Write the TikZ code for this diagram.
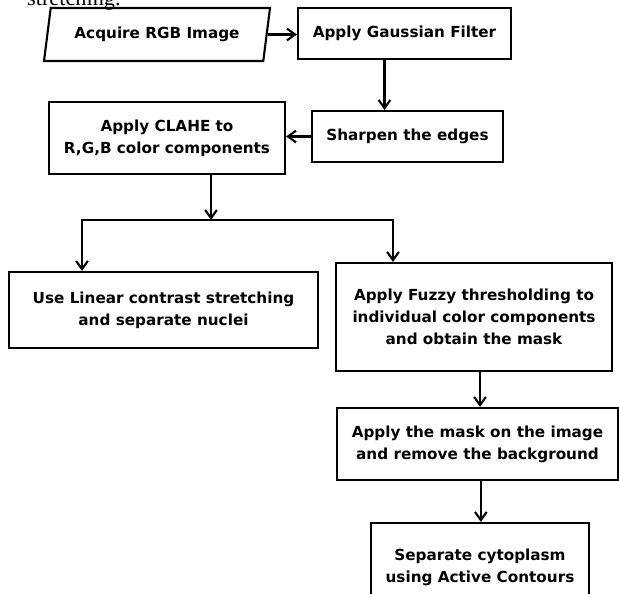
\documentclass[tikz,border=0pt]{standalone}
\usepackage{fontspec}
\setmainfont{DejaVu Sans}
\newfontfamily\capfont{Liberation Serif}
\usetikzlibrary{positioning,shapes.geometric,arrows.meta}

\tikzset{
	stepbox/.style={draw, line width=1.8pt, align=center, inner sep=2pt,
		font=\bfseries\fontsize{13}{18.7}\selectfont},
	flow/.style={-{Straight Barb[length=7pt,width=10pt]}, line width=1.8pt}
}

\begin{document}
\begin{tikzpicture}[x=0.03cm, y=-0.03cm]
		\useasboundingbox (0,0) rectangle (619,594);
		
		% caption left over from the page above
		\node[anchor=base west, inner sep=0, font=\capfont\fontsize{19}{22}\selectfont] (capline) at (27,6) {stretching.};
		
		% Top row
		\node[stepbox, trapezium, trapezium left angle=71, trapezium right angle=109,
			trapezium stretches body, minimum width=6.78cm, minimum height=1.59cm] (acq) at (157,34.5) {Acquire RGB Image};
		\node[stepbox, minimum width=6.39cm, minimum height=1.53cm] (gauss) at (404.5,33.5) {Apply Gaussian Filter};
		
		% Second row
		\node[stepbox, minimum width=5.73cm, minimum height=1.53cm] (sharp) at (407.5,136.5) {Sharpen the edges};
		\node[stepbox, minimum width=7.08cm, minimum height=2.16cm] (clahe) at (167,138) {Apply CLAHE to\\R,G,B color components};
		
		% Branches
		\node[stepbox, minimum width=9.27cm, minimum height=2.28cm] (linear) at (163.5,310) {Use Linear contrast stretching\\and separate nuclei};
		\node[stepbox, minimum width=8.28cm, minimum height=3.24cm] (fuzzy) at (474,317) {Apply Fuzzy thresholding to\\individual color components\\and obtain the mask};
		
		% Right column
		\node[stepbox, minimum width=8.43cm, minimum height=2.16cm] (mask) at (477.5,444) {Apply the mask on the image\\and remove the background};
		\node[stepbox, minimum width=6.54cm, minimum height=2.64cm] (sep) at (480,567) {Separate cytoplasm\\using Active Contours};
		
		\coordinate (split) at (211,220);
		
		% Arrows
		\draw[flow] (acq.east) -- (acq.east -| gauss.west);
		\draw[flow] ([xshift=-0.6cm]gauss.south) -- ([xshift=-0.6cm]gauss.south |- sharp.north);
		\draw[flow] (sharp.west) -- (sharp.west -| clahe.east);
		\draw[flow] (clahe.south -| split) -- (split);
		\draw[flow] (split) -| ([xshift=-2.445cm]linear.north);
		\draw[flow] (split) -| ([xshift=-2.43cm]fuzzy.north);
		\draw[flow] ([xshift=0.18cm]fuzzy.south) -- ([xshift=0.18cm]fuzzy.south |- mask.north);
		\draw[flow] ([xshift=0.1cm]mask.south) -- ([xshift=0.1cm]mask.south |- sep.north);
	\end{tikzpicture}
\end{document}
